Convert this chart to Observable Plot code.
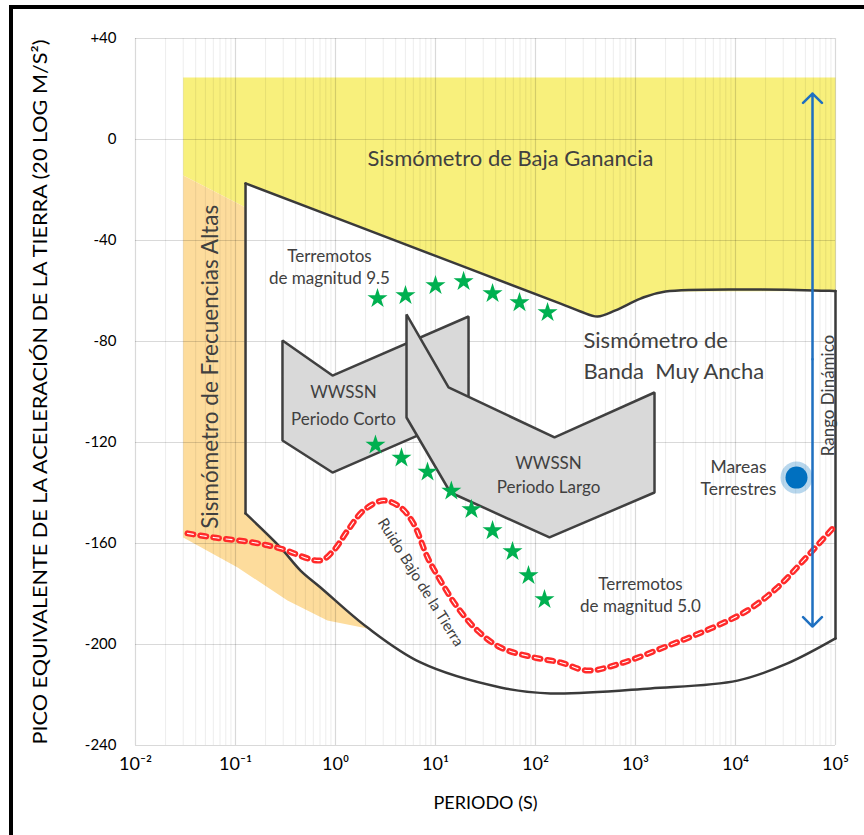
<!DOCTYPE html>
<html>
<head>
<meta charset="utf-8">
<script src="https://cdn.jsdelivr.net/npm/d3@7"></script>
<script src="https://cdn.jsdelivr.net/npm/@observablehq/plot@0.6"></script>
<style>
  html, body { margin: 0; padding: 0; background: #fff; overflow: hidden; }
  #wrap { position: relative; width: 864px; height: 835px; }
  #border { position: absolute; left: 9px; top: 5px; width: 1000px; height: 1000px;
            border-left: 4px solid #000; border-top: 4px solid #000; pointer-events: none; }
</style>
</head>
<body>
<div id="wrap"><div id="chart"></div><div id="border"></div></div>
<script>
// ---- axis ticks ----
const xTicks = [1e-2, 1e-1, 1e0, 1e1, 1e2, 1e3, 1e4, 1e5];
const xTickLabels = ["10⁻²", "10⁻¹", "10⁰", "10¹", "10²", "10³", "10⁴", "10⁵"];
const yTicks = [40, 0, -40, -80, -120, -160, -200, -240];
const yTickLabels = ["+40", "0", "-40", "-80", "-120", "-160", "-200", "-240"];

// ---- regions (period s, dB) ----
const lowGainTop = 24.6;
const envelopeTop = [[0.126, -17.4], [10, -46.1], [178, -65.0], [282, -68.1], [417, -70.1], [631, -67.7], [1122, -63.0], [1995, -60.2], [1e5, -60]];
const envelopeBottom = [[0.126, -148.1], [0.282, -161.6], [0.447, -170.7], [0.708, -177.4], [2.09, -193.3], [7.08, -207.1], [44.7, -217.0], [141, -219.4], [1413, -217.4], [10471, -214.3], [33113, -207.5], [1e5, -197.6]];
const highFreqTop = [[0.03, -14.3], [0.126, -26.9]];
const highFreqBottom = [[0.03, -157.6], [0.105, -169.5], [0.331, -182.6], [0.83, -190.5], [2.09, -193.7]];
const wwssnShort = [[0.295, -79.6], [0.933, -93.5], [21.4, -70.1], [21.4, -108.5], [0.933, -131.9], [0.295, -119.2]];
const wwssnLong = [[5.13, -69.3], [13.5, -98.2], [155, -118.0], [1549, -100.2], [1549, -139.8], [138, -157.6], [14.1, -139.8], [5.13, -110.1]];

// ---- earthquakes ----
const quake95 = [[2.63, -63.0], [5.01, -61.8], [10, -57.8], [19.1, -56.2], [37.2, -61.0], [69.2, -64.6], [132, -68.5]];
const quake50 = [[2.51, -121.0], [4.57, -126.1], [8.32, -131.7], [14.4, -139.2], [22.9, -146.5], [37.2, -154.9], [58.9, -163.2], [85.1, -172.7], [123, -182.2]];

// ---- low noise model ----
const lowNoise = [[0.0331, -156.0], [0.0603, -157.6], [0.151, -159.6], [0.282, -162.0], [0.708, -166.7], [0.955, -162.8], [1.32, -154.9], [1.91, -146.9], [3.02, -143.0], [4.47, -145.7], [6.03, -152.1], [8.32, -165.5], [11.2, -174.7], [16.6, -185.3], [26.3, -194.5], [44.7, -201.2], [95.5, -205.1], [178, -207.1], [331, -210.3], [708, -207.5], [1905, -201.2], [5623, -193.7], [13183, -186.5], [26303, -177.4], [47863, -166.7], [95500, -153.7]];

// ---- tides & dynamic range ----
const earthTide = [[40738, -133.9]];
const dynamicRange = { x: 58884, top: 18.2, bottom: -192.9, mid: -87 };

// ---- labels ----
const labels = [
  { t: "Sismómetro de Baja Ganancia", x: 56.2, y: -7.9, size: 22, anchor: "middle", rot: 0 },
  { t: "Sismómetro de Frecuencias Altas", x: 0.056, y: -90, size: 22.5, anchor: "middle", rot: -90 },
  { t: "Sismómetro de", x: 302, y: -79.6, size: 22, anchor: "start", rot: 0 },
  { t: "Banda  Muy Ancha", x: 302, y: -91.9, size: 22, anchor: "start", rot: 0 },
  { t: "Terremotos", x: 0.87, y: -46.3, size: 17, anchor: "middle", rot: 0 },
  { t: "de magnitud 9.5", x: 0.87, y: -55.0, size: 17, anchor: "middle", rot: 0 },
  { t: "WWSSN", x: 1.2, y: -100.2, size: 17, anchor: "middle", rot: 0 },
  { t: "Periodo Corto", x: 1.2, y: -110.9, size: 17, anchor: "middle", rot: 0 },
  { t: "WWSSN", x: 135, y: -128.3, size: 17, anchor: "middle", rot: 0 },
  { t: "Periodo Largo", x: 135, y: -137.8, size: 17, anchor: "middle", rot: 0 },
  { t: "Terremotos", x: 1122, y: -176.2, size: 17, anchor: "middle", rot: 0 },
  { t: "de magnitud 5.0", x: 1122, y: -184.9, size: 17, anchor: "middle", rot: 0 },
  { t: "Mareas", x: 10715, y: -129.9, size: 17.5, anchor: "middle", rot: 0 },
  { t: "Terrestres", x: 10715, y: -138.6, size: 17.5, anchor: "middle", rot: 0 },
  { t: "Ruido Bajo de la Tierra", x: 7.08, y: -175.4, size: 15, anchor: "middle", rot: 58 },
  { t: "Rango Dinámico", x: 85114, y: -101.4, size: 17, anchor: "middle", rot: -90 }
];
const yTitle = "PICO EQUIVALENTE DE LA ACELERACIÓN DE LA TIERRA (20 LOG M/S²)";
const xTitle = "PERIODO (S)";

// ---- build tables ----
const P = (a) => a.map(([x, y]) => ({ x, y }));
const minorTicks = [];
for (let i = 0; i < xTicks.length - 1; i++) for (let k = 2; k <= 9; k++) minorTicks.push(xTicks[i] * k);

const yellowPoly = P([[highFreqTop[0][0], lowGainTop], [1e5, lowGainTop], ...envelopeTop.slice().reverse(), highFreqTop[1], highFreqTop[0]]);
const upto = envelopeBottom.filter(d => d[0] <= highFreqBottom[highFreqBottom.length - 1][0]);
const orangePoly = P([...highFreqTop, ...upto, ...highFreqBottom.slice().reverse()]);
const edges = [
  ...P([envelopeTop[0], envelopeBottom[0]]).map(d => ({ ...d, z: "l" })),
  ...P([envelopeTop[envelopeTop.length - 1], envelopeBottom[envelopeBottom.length - 1]]).map(d => ({ ...d, z: "r" }))
];
const curves = [
  ...P(envelopeTop).map(d => ({ ...d, z: "t" })),
  ...P(envelopeBottom).map(d => ({ ...d, z: "b" }))
];
const font = "Lato, 'Open Sans', sans-serif";
const txt = "#404040";

const chart = Plot.plot({
  width: 864, height: 835,
  marginLeft: 135, marginRight: 29, marginTop: 38, marginBottom: 90,
  style: { fontFamily: font, background: "transparent", color: "#000" },
  x: { type: "log", domain: [1e-2, 1e5], axis: null },
  y: { domain: [-240, 40], axis: null },
  marks: [
    Plot.line(yellowPoly, { x: "x", y: "y", curve: "linear-closed", fill: "#f8f07c", stroke: "none" }),
    Plot.line(orangePoly, { x: "x", y: "y", curve: "linear-closed", fill: "#fddc9c", stroke: "none" }),
    Plot.ruleX(minorTicks, { stroke: "#000", strokeOpacity: 0.075, strokeWidth: 1 }),
    Plot.ruleX(xTicks, { stroke: "#000", strokeOpacity: 0.15, strokeWidth: 1.2 }),
    Plot.ruleY(yTicks, { stroke: "#000", strokeOpacity: 0.15, strokeWidth: 1.2 }),
    Plot.axisX(xTicks, { ticks: xTicks, tickSize: 0, tickPadding: 12, tickFormat: (d) => xTickLabels[xTicks.indexOf(d)], fontSize: 18, fill: "#000", label: null }),
    Plot.axisY(yTicks, { ticks: yTicks, tickSize: 0, tickPadding: 19, tickFormat: (d) => yTickLabels[yTicks.indexOf(d)], fontSize: 15, fill: "#000", label: null }),
    Plot.line(P(wwssnShort), { x: "x", y: "y", curve: "linear-closed", fill: "#d9d9d9", stroke: "#404040", strokeWidth: 2.5, strokeLinejoin: "miter" }),
    Plot.line(P(wwssnLong), { x: "x", y: "y", curve: "linear-closed", fill: "#d9d9d9", stroke: "#404040", strokeWidth: 2.5, strokeLinejoin: "miter" }),
    Plot.line(edges, { x: "x", y: "y", z: "z", stroke: "#3a3a3a", strokeWidth: 2.5 }),
    Plot.line(curves, { x: "x", y: "y", z: "z", curve: "catmull-rom", stroke: "#3a3a3a", strokeWidth: 2.5 }),
    Plot.line(P(lowNoise), { x: "x", y: "y", curve: "catmull-rom", stroke: "#ff2a2a", strokeWidth: 6, strokeDasharray: "6,7" }),
    Plot.line(P(lowNoise), { x: "x", y: "y", curve: "catmull-rom", stroke: "#fff", strokeWidth: 1.1, strokeDasharray: "6,7" }),
    Plot.dot(P(quake95), { x: "x", y: "y", symbol: "star", r: 6.3, fill: "#00b050", stroke: "none" }),
    Plot.dot(P(quake50), { x: "x", y: "y", symbol: "star", r: 6.3, fill: "#00b050", stroke: "none" }),
    Plot.dot(P(earthTide), { x: "x", y: "y", r: 16, fill: "#0070c0", fillOpacity: 0.28, stroke: "none" }),
    Plot.dot(P(earthTide), { x: "x", y: "y", r: 11, fill: "#0070c0", stroke: "none" }),
    Plot.arrow([dynamicRange], { x: "x", y1: "mid", y2: "top", stroke: "#1f70c1", strokeWidth: 2.5, headAngle: 90, headLength: 8 }),
    Plot.arrow([dynamicRange], { x: "x", y1: "mid", y2: "bottom", stroke: "#1f70c1", strokeWidth: 2.5, headAngle: 90, headLength: 8 }),
    ...labels.map(l => Plot.text([l], { x: "x", y: "y", text: "t", fontSize: l.size, textAnchor: l.anchor, rotate: l.rot, fill: txt })),
    Plot.text([yTitle], { frameAnchor: "left", textAnchor: "middle", dx: -95, rotate: -90, fontSize: 19, fill: "#000" }),
    Plot.text([xTitle], { frameAnchor: "bottom", textAnchor: "middle", dy: 63, fontSize: 18, fill: "#000" })
  ]
});
d3.select(chart).selectAll("text")
  .filter(function () { return this.textContent === yTitle; })
  .attr("textLength", 705).attr("lengthAdjust", "spacingAndGlyphs");
document.getElementById("chart").appendChild(chart);
</script>
</body>
</html>
